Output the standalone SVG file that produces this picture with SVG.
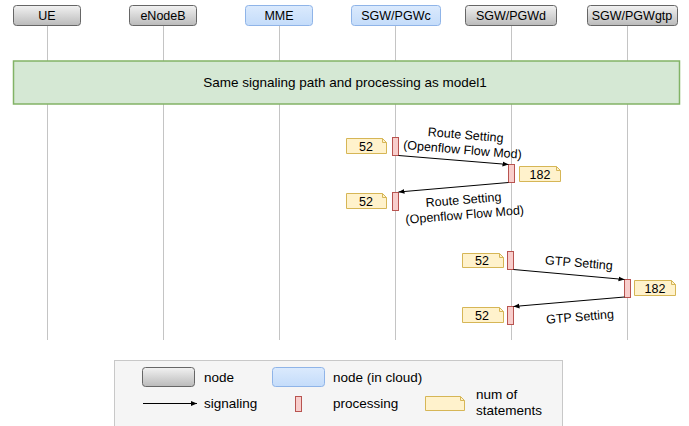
<svg xmlns="http://www.w3.org/2000/svg" width="689" height="426" viewBox="0 0 689 426">
  <defs>
    <linearGradient id="gray" x1="0" y1="0" x2="0" y2="1">
      <stop offset="0" stop-color="#f2f2f2"/>
      <stop offset="1" stop-color="#bababa"/>
    </linearGradient>
    <linearGradient id="blue" x1="0" y1="0" x2="0" y2="1">
      <stop offset="0" stop-color="#dbeafd"/>
      <stop offset="1" stop-color="#c4dcfa"/>
    </linearGradient>
    <marker id="arrow" viewBox="0 0 10 10" refX="10" refY="5" markerWidth="6" markerHeight="6" orient="auto" markerUnits="userSpaceOnUse">
      <path d="M0,1 L10,5 L0,9 Z" fill="#000"/>
    </marker>
  </defs>
  <style>
    text { font-family: "Liberation Sans", Arial, sans-serif; font-size: 12.5px; fill: #000; }
    .mid { text-anchor: middle; }
    .big { font-size: 13.5px; }
    .node { fill: url(#gray); stroke: #666; stroke-width: 1; }
    .cloud { fill: url(#blue); stroke: #8fb4e8; stroke-width: 1; }
    .life { stroke: #c4c4c4; stroke-width: 1; fill: none; }
    .proc { fill: #f8cecc; stroke: #b85450; stroke-width: 1; }
    .note { fill: #fff2cc; stroke: #d6b656; stroke-width: 1; }
    .fold { fill: none; stroke: #d6b656; stroke-width: 1; }
    .sig { stroke: #000; stroke-width: 1; fill: none; marker-end: url(#arrow); }
  </style>

  <!-- lifelines -->
  <g id="lifelines">
    <line class="life" x1="47.5" y1="26" x2="47.5" y2="340"/>
    <line class="life" x1="163.5" y1="26" x2="163.5" y2="340"/>
    <line class="life" x1="279.5" y1="26" x2="279.5" y2="340"/>
    <line class="life" x1="395.5" y1="26" x2="395.5" y2="340"/>
    <line class="life" x1="511.5" y1="26" x2="511.5" y2="340"/>
    <line class="life" x1="627.5" y1="26" x2="627.5" y2="340"/>
  </g>

  <!-- participants -->
  <g id="ue"><rect class="node" x="13.5" y="5.5" width="67" height="20" rx="3"/><text class="mid" x="47" y="20">UE</text></g>
  <g id="enodeb"><rect class="node" x="129.5" y="5.5" width="67" height="20" rx="3"/><text class="mid" x="163" y="20">eNodeB</text></g>
  <g id="mme"><rect class="cloud" x="245.5" y="5.5" width="67" height="20" rx="3"/><text class="mid" x="279" y="20">MME</text></g>
  <g id="sgw-pgwc"><rect class="cloud" x="351.5" y="5.5" width="89" height="20" rx="3"/><text class="mid" x="396" y="20">SGW/PGWc</text></g>
  <g id="sgw-pgwd"><rect class="node" x="465.5" y="5.5" width="91" height="20" rx="3"/><text class="mid" x="511" y="20">SGW/PGWd</text></g>
  <g id="sgw-pgwgtp"><rect class="node" x="587.5" y="5.5" width="90" height="20" rx="3"/><text class="mid" x="632" y="20">SGW/PGWgtp</text></g>

  <!-- shared part -->
  <g id="model1-block">
    <rect x="13.5" y="61" width="666" height="43" fill="#d5e8d4" stroke="#82b366" stroke-width="1.5"/>
    <text class="mid big" x="345" y="87">Same signaling path and processing as model1</text>
  </g>

  <!-- processing -->
  <g id="proc-c1"><rect class="proc" x="392.5" y="137.5" width="6" height="18"/></g>
  <g id="proc-d1"><rect class="proc" x="508.5" y="164.5" width="6" height="18"/></g>
  <g id="proc-c2"><rect class="proc" x="392.5" y="192.5" width="6" height="18"/></g>
  <g id="proc-d2"><rect class="proc" x="507.5" y="251.5" width="6" height="18"/></g>
  <g id="proc-gtp"><rect class="proc" x="624.5" y="279.5" width="6" height="18"/></g>
  <g id="proc-d3"><rect class="proc" x="507.5" y="306.5" width="6" height="18"/></g>

  <!-- statement counts -->
  <g id="note-c1"><path class="note" d="M346.5,138.5 H382.5 L386.5,142.5 V153.5 H346.5 Z"/><path class="fold" d="M382.5,138.5 V142.5 H386.5"/><text class="mid" x="366" y="150.5">52</text></g>
  <g id="note-d1"><path class="note" d="M519.5,166.5 H556.5 L560.5,170.5 V181.5 H519.5 Z"/><path class="fold" d="M556.5,166.5 V170.5 H560.5"/><text class="mid" x="540" y="178.5">182</text></g>
  <g id="note-c2"><path class="note" d="M346.5,193.5 H382.5 L386.5,197.5 V208.5 H346.5 Z"/><path class="fold" d="M382.5,193.5 V197.5 H386.5"/><text class="mid" x="366" y="205.5">52</text></g>
  <g id="note-d2"><path class="note" d="M462.5,253.5 H499.5 L503.5,257.5 V267.5 H462.5 Z"/><path class="fold" d="M499.5,253.5 V257.5 H503.5"/><text class="mid" x="482" y="265">52</text></g>
  <g id="note-gtp"><path class="note" d="M634.5,280.5 H671.5 L675.5,284.5 V295.5 H634.5 Z"/><path class="fold" d="M671.5,280.5 V284.5 H675.5"/><text class="mid" x="655" y="292.5">182</text></g>
  <g id="note-d3"><path class="note" d="M462.5,307.5 H499.5 L503.5,311.5 V322.5 H462.5 Z"/><path class="fold" d="M499.5,307.5 V311.5 H503.5"/><text class="mid" x="482" y="319.5">52</text></g>

  <!-- signaling -->
  <g id="connectors">
    <line class="sig" x1="398.5" y1="155.5" x2="508.5" y2="164.5"/>
    <line class="sig" x1="508.5" y1="182.5" x2="398.5" y2="192"/>
    <line class="sig" x1="513.5" y1="269.5" x2="624.5" y2="279.5"/>
    <line class="sig" x1="624.5" y1="297" x2="513.5" y2="306.5"/>
  </g>

  <!-- signal labels -->
  <g id="labels">
    <g transform="rotate(4.7 464 143)">
      <text class="mid" x="465" y="139">Route Setting</text>
      <text class="mid" x="463" y="154">(Openflow Flow Mod)</text>
    </g>
    <g transform="rotate(-4.7 464 206)">
      <text class="mid" x="464" y="204">Route Setting</text>
      <text class="mid" x="464" y="219">(Openflow Flow Mod)</text>
    </g>
    <text class="mid" x="579" y="267" transform="rotate(4.7 579 263)">GTP Setting</text>
    <text class="mid" x="580" y="321" transform="rotate(-4.7 580 317)">GTP Setting</text>
  </g>

  <!-- legend -->
  <g id="legend">
    <rect x="114.5" y="360.5" width="448" height="70" fill="#f5f5f5" stroke="#c8c8c8" stroke-width="1"/>
    <rect class="node" x="142.5" y="367.5" width="52" height="19" rx="3"/>
    <text class="big" x="204" y="382">node</text>
    <rect class="cloud" x="272.5" y="367.5" width="52" height="19" rx="3"/>
    <text class="big" x="333" y="382">node (in cloud)</text>
    <line class="sig" x1="143" y1="403.5" x2="197" y2="403.5" stroke="#333"/>
    <text class="big" x="204" y="408">signaling</text>
    <rect class="proc" x="295.5" y="396.5" width="6" height="15"/>
    <text class="big" x="333" y="408">processing</text>
    <path class="note" d="M425.5,396.5 H460.5 L464.5,400.5 V410.5 H425.5 Z"/><path class="fold" d="M460.5,396.5 V400.5 H464.5"/>
    <text class="big" x="476" y="399">num of</text>
    <text class="big" x="476" y="415">statements</text>
  </g>
</svg>
